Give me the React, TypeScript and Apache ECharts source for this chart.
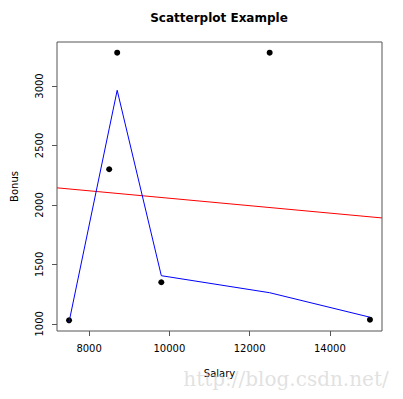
import React, { useEffect, useRef } from "react";
import * as echarts from "echarts";

const salary = [7500, 8500, 8700, 9800, 12500, 15000];
const bonus = [1030, 2300, 3280, 1350, 3280, 1035];
const lowessY = [1015, 2640, 2964, 1405, 1262, 1056];
const xTicks = [8000, 10000, 12000, 14000];
const yTicks = [1000, 1500, 2000, 2500, 3000];

function padRange(v: number[]) {
  const lo = Math.min(...v);
  const hi = Math.max(...v);
  const r = hi - lo;
  return [lo - 0.04 * r, hi + 0.04 * r];
}

function linReg(x: number[], y: number[]) {
  const n = x.length;
  const mx = x.reduce((a, b) => a + b, 0) / n;
  const my = y.reduce((a, b) => a + b, 0) / n;
  let sxy = 0;
  let sxx = 0;
  for (let i = 0; i < n; i++) {
    sxy += (x[i] - mx) * (y[i] - my);
    sxx += (x[i] - mx) * (x[i] - mx);
  }
  const b = sxy / sxx;
  return { a: my - b * mx, b };
}

export default function App() {
  const ref = useRef<HTMLDivElement>(null);
  useEffect(() => {
    if (!ref.current) return;
    const chart = echarts.init(ref.current, null, { renderer: "svg" });
    const [xmin, xmax] = padRange(salary);
    const [ymin, ymax] = padRange(bonus);
    const { a, b } = linReg(salary, bonus);
    const font = "DejaVu Sans";
    const axisCol = "#555";
    chart.setOption({
      animation: false,
      backgroundColor: "#fff",
      textStyle: { fontFamily: font },
      grid: {
        left: 57,
        top: 42,
        width: 325,
        height: 289,
        show: true,
        borderColor: axisCol,
        borderWidth: 1,
        backgroundColor: "transparent",
      },
      graphic: [
        {
          type: "text",
          x: 219,
          y: 18,
          style: {
            text: "Scatterplot Example",
            fontFamily: font,
            fontWeight: "bold",
            fontSize: 12,
            fill: "#000",
            textAlign: "center",
            textVerticalAlign: "middle",
          },
        },
        {
          type: "text",
          x: 286,
          y: 379,
          z: 100,
          style: {
            text: "http://blog.csdn.net/",
            fontFamily: "DejaVu Serif",
            fontSize: 20,
            fill: "rgba(200,200,200,0.55)",
            textAlign: "center",
            textVerticalAlign: "middle",
          },
        },
      ],
      xAxis: {
        type: "value",
        min: xmin,
        max: xmax,
        name: "Salary",
        nameLocation: "middle",
        nameGap: 37,
        nameTextStyle: { fontFamily: font, fontSize: 10, color: "#000" },
        axisLine: { show: false },
        splitLine: { show: false },
        axisTick: {
          show: true,
          length: 5,
          customValues: xTicks,
          lineStyle: { color: axisCol },
        },
        axisLabel: {
          customValues: xTicks,
          formatter: (v: number) => String(v),
          fontFamily: font,
          fontSize: 10,
          color: "#000",
          margin: 12,
        },
      },
      yAxis: {
        type: "value",
        min: ymin,
        max: ymax,
        name: "Bonus",
        nameLocation: "middle",
        nameGap: 38,
        nameTextStyle: { fontFamily: font, fontSize: 10, color: "#000" },
        axisLine: { show: false },
        splitLine: { show: false },
        axisTick: {
          show: true,
          length: 5,
          customValues: yTicks,
          lineStyle: { color: axisCol },
        },
        axisLabel: {
          customValues: yTicks,
          formatter: (v: number) => String(v),
          rotate: 90,
          fontFamily: font,
          fontSize: 10,
          color: "#000",
          margin: 13,
        },
      },
      series: [
        {
          type: "line",
          data: [
            [xmin, a + b * xmin],
            [xmax, a + b * xmax],
          ],
          symbol: "none",
          lineStyle: { color: "#ff0000", width: 1 },
          silent: true,
          z: 2,
        },
        {
          type: "scatter",
          data: salary.map((x, i) => [x, bonus[i]]),
          symbol: "circle",
          symbolSize: 6,
          itemStyle: { color: "#000", opacity: 1 },
          z: 3,
        },
        {
          type: "line",
          data: salary.map((x, i) => [x, lowessY[i]]),
          symbol: "none",
          lineStyle: { color: "#0000ff", width: 1 },
          z: 4,
        },
      ],
    });
    return () => chart.dispose();
  }, []);
  return (
    <div
      ref={ref}
      style={{ position: "fixed", left: 0, top: 0, width: 403, height: 399 }}
    />
  );
}
